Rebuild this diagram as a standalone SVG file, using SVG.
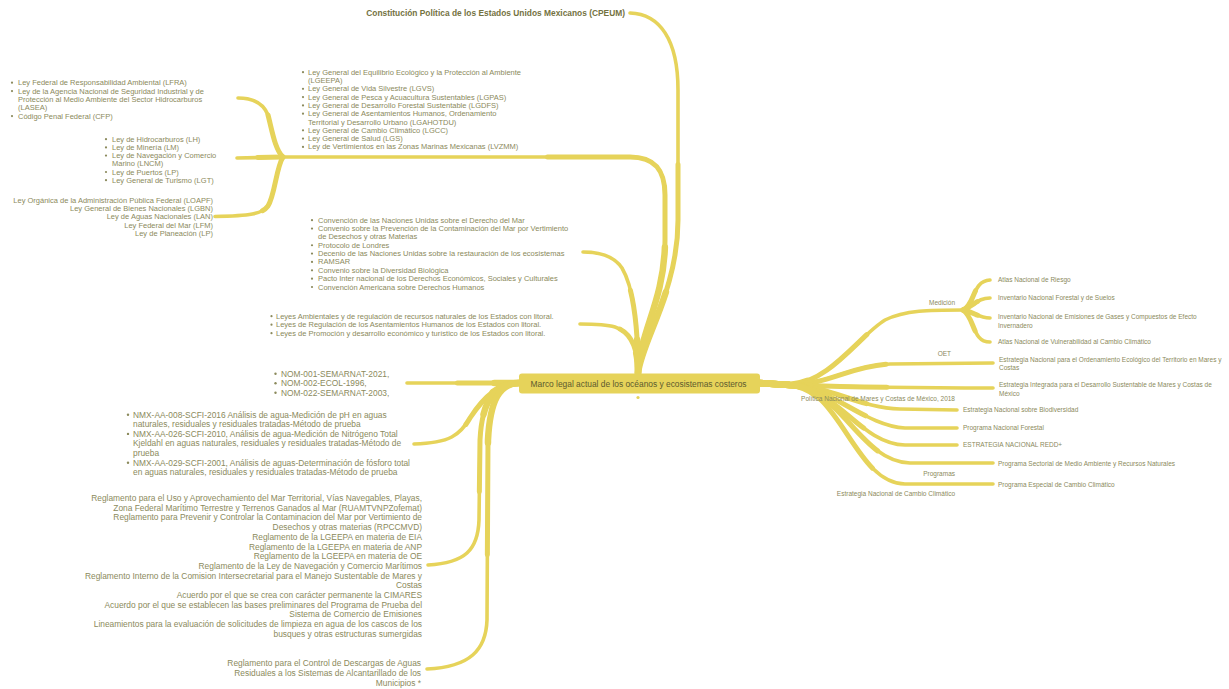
<svg xmlns="http://www.w3.org/2000/svg" xmlns:xlink="http://www.w3.org/1999/xlink" width="1229" height="689" viewBox="0 0 1229 689">
<style>
.t{font-family:"Liberation Sans",Arial,sans-serif;fill:#8b8a5c;font-size:7.5px}
.m{font-size:8.4px}
.s{font-size:6.5px}
.e{text-anchor:end}
.b{fill:#8b8a5c}
.ttl{font-family:"Liberation Sans",Arial,sans-serif;font-weight:bold;font-size:8.4px;fill:#74723f;text-anchor:end}
.ctr{font-family:"Liberation Sans",Arial,sans-serif;font-size:8.4px;fill:#5c5a2e;text-anchor:middle}
.node{fill:#e6d35a}
.ln{fill:none;stroke:#e6d35a;stroke-linecap:round;stroke-linejoin:round}
.w1{stroke-width:3.6}
.w2{stroke-width:5;stroke-dasharray:55 200}
.w3{stroke-width:6.5;stroke-dasharray:22 200}
</style>
<defs>
<path id="p_cpeum" pathLength="100" d="M638,373 C642,340 678,290 678,220 L678,90 C678,40 660,14 630,13"/>
<path id="p_lgeepa" pathLength="100" d="M638,373 C640,330 665,300 665,240 L665,195 C665,170 655,157 630,157 L283,157"/>
<path id="p_conv" pathLength="100" d="M638,373 C638,320 632,285 622,268 C614,256 600,252 583,252"/>
<path id="p_estat" pathLength="100" d="M638,373 C638,345 630,332 615,327 C605,324 592,324 580,324"/>
<path id="p_lfra" pathLength="100" d="M283,157 C275,150 272,130 268,115 C263,102 252,98 238,98"/>
<path id="p_lh" pathLength="100" d="M283,157 L237,158"/>
<path id="p_loapf" pathLength="100" d="M283,157 C276,168 275,195 268,206 C262,214 250,216 215,216.5"/>
<path id="p_nom" pathLength="100" d="M519,383 L407,383"/>
<path id="p_nmx" pathLength="100" d="M519,383 C500,383 485,395 470,418 C460,435 450,443 414,444"/>
<path id="p_regl" pathLength="100" d="M519,383 C495,383 482,400 480,440 L479,520 C478,550 465,563 428,565"/>
<path id="p_ctrl" pathLength="100" d="M519,383 C500,383 490,400 488,440 L487,620 C486,650 470,667 427,669"/>
<path id="p_med" pathLength="100" d="M758,383 L790,385 C830,382 860,335 885,320 C905,310 930,310 963,310"/>
<path id="p_oet" pathLength="100" d="M758,383 L790,385 C830,384 850,366 890,364 L993,363"/>
<path id="p_integ" pathLength="100" d="M758,383 L790,385 C850,387 900,388 993,388"/>
<path id="p_bio" pathLength="100" d="M758,383 L790,385 C830,386 860,408 900,409 L957,410"/>
<path id="p_for" pathLength="100" d="M758,383 L790,385 C830,386 865,426 905,428 L957,428"/>
<path id="p_redd" pathLength="100" d="M758,383 L790,385 C835,386 860,444 905,445 L957,445"/>
<path id="p_sect" pathLength="100" d="M758,383 L790,385 C840,386 860,462 910,463 L993,463"/>
<path id="p_esp" pathLength="100" d="M758,383 L790,385 C840,386 855,484 905,484 L993,484"/>
<path id="p_m1" pathLength="100" d="M963,310 C975,305 972,281 990,280"/>
<path id="p_m2" pathLength="100" d="M963,310 C975,305 978,298 990,298"/>
<path id="p_m3" pathLength="100" d="M963,310 C975,312 978,318 990,318"/>
<path id="p_m4" pathLength="100" d="M963,310 C975,318 972,342 990,342"/>
</defs>
<rect width="1229" height="689" fill="#ffffff"/>
<g id="connectors">
<use xlink:href="#p_cpeum" class="ln w1"/><use xlink:href="#p_cpeum" class="ln w2"/><use xlink:href="#p_cpeum" class="ln w3"/>
<use xlink:href="#p_lgeepa" class="ln w1"/><use xlink:href="#p_lgeepa" class="ln w2"/><use xlink:href="#p_lgeepa" class="ln w3"/>
<use xlink:href="#p_conv" class="ln w1"/><use xlink:href="#p_conv" class="ln w2"/><use xlink:href="#p_conv" class="ln w3"/>
<use xlink:href="#p_estat" class="ln w1"/><use xlink:href="#p_estat" class="ln w2"/><use xlink:href="#p_estat" class="ln w3"/>
<use xlink:href="#p_lfra" class="ln w1"/><use xlink:href="#p_lfra" class="ln w2"/>
<use xlink:href="#p_lh" class="ln w1"/><use xlink:href="#p_lh" class="ln w2"/>
<use xlink:href="#p_loapf" class="ln w1"/><use xlink:href="#p_loapf" class="ln w2"/>
<use xlink:href="#p_nom" class="ln w1"/><use xlink:href="#p_nom" class="ln w2"/><use xlink:href="#p_nom" class="ln w3"/>
<use xlink:href="#p_nmx" class="ln w1"/><use xlink:href="#p_nmx" class="ln w2"/><use xlink:href="#p_nmx" class="ln w3"/>
<use xlink:href="#p_regl" class="ln w1"/><use xlink:href="#p_regl" class="ln w2"/><use xlink:href="#p_regl" class="ln w3"/>
<use xlink:href="#p_ctrl" class="ln w1"/><use xlink:href="#p_ctrl" class="ln w2"/><use xlink:href="#p_ctrl" class="ln w3"/>
<use xlink:href="#p_med" class="ln w1"/><use xlink:href="#p_med" class="ln w2"/><use xlink:href="#p_med" class="ln w3"/>
<use xlink:href="#p_oet" class="ln w1"/><use xlink:href="#p_oet" class="ln w2"/><use xlink:href="#p_oet" class="ln w3"/>
<use xlink:href="#p_integ" class="ln w1"/><use xlink:href="#p_integ" class="ln w2"/><use xlink:href="#p_integ" class="ln w3"/>
<use xlink:href="#p_bio" class="ln w1"/><use xlink:href="#p_bio" class="ln w2"/><use xlink:href="#p_bio" class="ln w3"/>
<use xlink:href="#p_for" class="ln w1"/><use xlink:href="#p_for" class="ln w2"/><use xlink:href="#p_for" class="ln w3"/>
<use xlink:href="#p_redd" class="ln w1"/><use xlink:href="#p_redd" class="ln w2"/><use xlink:href="#p_redd" class="ln w3"/>
<use xlink:href="#p_sect" class="ln w1"/><use xlink:href="#p_sect" class="ln w2"/><use xlink:href="#p_sect" class="ln w3"/>
<use xlink:href="#p_esp" class="ln w1"/><use xlink:href="#p_esp" class="ln w2"/><use xlink:href="#p_esp" class="ln w3"/>
<use xlink:href="#p_m1" class="ln w1"/><use xlink:href="#p_m1" class="ln w2"/>
<use xlink:href="#p_m2" class="ln w1"/><use xlink:href="#p_m2" class="ln w2"/>
<use xlink:href="#p_m3" class="ln w1"/><use xlink:href="#p_m3" class="ln w2"/>
<use xlink:href="#p_m4" class="ln w1"/><use xlink:href="#p_m4" class="ln w2"/>
</g>

<g id="n_center">
<rect class="node" x="519" y="373.5" width="241" height="20" rx="3"/>
<circle class="node" cx="638" cy="397.5" r="1.6"/>
<text class="ctr" x="638.5" y="386.5">Marco legal actual de los océanos y ecosistemas costeros</text>
</g>

<g id="n_cpeum">
<text class="ttl" x="625" y="16.3">Constitución Política de los Estados Unidos Mexicanos (CPEUM)</text>
</g>

<g id="n_lgeepa">
<g class="b"><circle cx="303" cy="72.2" r="1.1"/><circle cx="303" cy="88.8" r="1.1"/><circle cx="303" cy="97.1" r="1.1"/><circle cx="303" cy="105.4" r="1.1"/><circle cx="303" cy="113.7" r="1.1"/><circle cx="303" cy="130.3" r="1.1"/><circle cx="303" cy="138.6" r="1.1"/><circle cx="303" cy="146.9" r="1.1"/></g>
<text class="t" x="308" y="74.7">Ley General del Equilibrio Ecológico y la Protección al Ambiente<tspan x="308" dy="8.3">(LGEEPA)</tspan><tspan x="308" dy="8.3">Ley General de Vida Silvestre (LGVS)</tspan><tspan x="308" dy="8.3">Ley General de Pesca y Acuacultura Sustentables (LGPAS)</tspan><tspan x="308" dy="8.3">Ley General de Desarrollo Forestal Sustentable (LGDFS)</tspan><tspan x="308" dy="8.3">Ley General de Asentamientos Humanos, Ordenamiento</tspan><tspan x="308" dy="8.3">Territorial y Desarrollo Urbano (LGAHOTDU)</tspan><tspan x="308" dy="8.3">Ley General de Cambio Climático (LGCC)</tspan><tspan x="308" dy="8.3">Ley General de Salud (LGS)</tspan><tspan x="308" dy="8.3">Ley de Vertimientos en las Zonas Marinas Mexicanas (LVZMM)</tspan></text>
</g>

<g id="n_lfra">
<g class="b"><circle cx="12" cy="82.7" r="1.1"/><circle cx="12" cy="91.05" r="1.1"/><circle cx="12" cy="116.1" r="1.1"/></g>
<text class="t" x="18" y="85.2">Ley Federal de Responsabilidad Ambiental (LFRA)<tspan x="18" dy="8.35">Ley de la Agencia Nacional de Seguridad Industrial y de</tspan><tspan x="18" dy="8.35">Protección al Medio Ambiente del Sector Hidrocarburos</tspan><tspan x="18" dy="8.35">(LASEA)</tspan><tspan x="18" dy="8.35">Código Penal Federal (CFP)</tspan></text>
</g>

<g id="n_lh">
<g class="b"><circle cx="106" cy="139.2" r="1.1"/><circle cx="106" cy="147.4" r="1.1"/><circle cx="106" cy="155.6" r="1.1"/><circle cx="106" cy="172" r="1.1"/><circle cx="106" cy="180.2" r="1.1"/></g>
<text class="t" x="112" y="141.7">Ley de Hidrocarburos (LH)<tspan x="112" dy="8.2">Ley de Minería (LM)</tspan><tspan x="112" dy="8.2">Ley de Navegación y Comercio</tspan><tspan x="112" dy="8.2">Marino (LNCM)</tspan><tspan x="112" dy="8.2">Ley de Puertos (LP)</tspan><tspan x="112" dy="8.2">Ley General de Turismo (LGT)</tspan></text>
</g>

<g id="n_loapf">
<text class="t e" x="213" y="202.7">Ley Orgánica de la Administración Pública Federal (LOAPF)<tspan x="213" dy="8.3">Ley General de Bienes Nacionales (LGBN)</tspan><tspan x="213" dy="8.3">Ley de Aguas Nacionales (LAN)</tspan><tspan x="213" dy="8.3">Ley Federal del Mar (LFM)</tspan><tspan x="213" dy="8.3">Ley de Planeación (LP)</tspan></text>
</g>

<g id="n_conv">
<g class="b"><circle cx="312" cy="220.2" r="1.1"/><circle cx="312" cy="228.55" r="1.1"/><circle cx="312" cy="245.25" r="1.1"/><circle cx="312" cy="253.6" r="1.1"/><circle cx="312" cy="261.95" r="1.1"/><circle cx="312" cy="270.3" r="1.1"/><circle cx="312" cy="278.65" r="1.1"/><circle cx="312" cy="287" r="1.1"/></g>
<text class="t" x="318" y="222.7">Convención de las Naciones Unidas sobre el Derecho del Mar<tspan x="318" dy="8.35">Convenio sobre la Prevención de la Contaminación del Mar por Vertimiento</tspan><tspan x="318" dy="8.35">de Desechos y otras Materias</tspan><tspan x="318" dy="8.35">Protocolo de Londres</tspan><tspan x="318" dy="8.35">Decenio de las Naciones Unidas sobre la restauración de los ecosistemas</tspan><tspan x="318" dy="8.35">RAMSAR</tspan><tspan x="318" dy="8.35">Convenio sobre la Diversidad Biológica</tspan><tspan x="318" dy="8.35">Pacto Inter nacional de los Derechos Económicos, Sociales y Culturales</tspan><tspan x="318" dy="8.35">Convención Americana sobre Derechos Humanos</tspan></text>
</g>

<g id="n_estatales">
<g class="b"><circle cx="271.5" cy="316.2" r="1.1"/><circle cx="271.5" cy="324.7" r="1.1"/><circle cx="271.5" cy="333.2" r="1.1"/></g>
<text class="t" x="276" y="318.7">Leyes Ambientales y de regulación de recursos naturales de los Estados con litoral.<tspan x="276" dy="8.5">Leyes de Regulación de los Asentamientos Humanos de los Estados con litoral.</tspan><tspan x="276" dy="8.5">Leyes de Promoción y desarrollo económico y turístico de los Estados con litoral.</tspan></text>
</g>

<g id="n_nom">
<g class="b"><circle cx="275.5" cy="373.7" r="1.2"/><circle cx="275.5" cy="383.2" r="1.2"/><circle cx="275.5" cy="392.7" r="1.2"/></g>
<text class="t m" x="281" y="376.5">NOM-001-SEMARNAT-2021,<tspan x="281" dy="9.5">NOM-002-ECOL-1996,</tspan><tspan x="281" dy="9.5">NOM-022-SEMARNAT-2003,</tspan></text>
</g>

<g id="n_nmx">
<g class="b"><circle cx="128" cy="414.7" r="1.2"/><circle cx="128" cy="433.9" r="1.2"/><circle cx="128" cy="462.7" r="1.2"/></g>
<text class="t m" x="133" y="417.5">NMX-AA-008-SCFI-2016 Análisis de agua-Medición de pH en aguas<tspan x="133" dy="9.6">naturales, residuales y residuales tratadas-Método de prueba</tspan><tspan x="133" dy="9.6">NMX-AA-026-SCFI-2010, Análisis de agua-Medición de Nitrógeno Total</tspan><tspan x="133" dy="9.6">Kjeldahl en aguas naturales, residuales y residuales tratadas-Método de</tspan><tspan x="133" dy="9.6">prueba</tspan><tspan x="133" dy="9.6">NMX-AA-029-SCFI-2001, Análisis de aguas-Determinación de fósforo total</tspan><tspan x="133" dy="9.6">en aguas naturales, residuales y residuales tratadas-Método de prueba</tspan></text>
</g>

<g id="n_reglamentos">
<text class="t m e" x="422" y="501">Reglamento para el Uso y Aprovechamiento del Mar Territorial, Vías Navegables, Playas,<tspan x="422" dy="9.7">Zona Federal Marítimo Terrestre y Terrenos Ganados al Mar (RUAMTVNPZofemat)</tspan><tspan x="422" dy="9.7">Reglamento para Prevenir y Controlar la Contaminacion del Mar por Vertimiento de</tspan><tspan x="422" dy="9.7">Desechos y otras materias (RPCCMVD)</tspan><tspan x="422" dy="9.7">Reglamento de la LGEEPA en materia de EIA</tspan><tspan x="422" dy="9.7">Reglamento de la LGEEPA en materia de ANP</tspan><tspan x="422" dy="9.7">Reglamento de la LGEEPA en materia de OE</tspan><tspan x="422" dy="9.7">Reglamento de la Ley de Navegación y Comercio Marítimos</tspan><tspan x="422" dy="9.7">Reglamento Interno de la Comision Intersecretarial para el Manejo Sustentable de Mares y</tspan><tspan x="422" dy="9.7">Costas</tspan><tspan x="422" dy="9.7">Acuerdo por el que se crea con carácter permanente la CIMARES</tspan><tspan x="422" dy="9.7">Acuerdo por el que se establecen las bases preliminares del Programa de Prueba del</tspan><tspan x="422" dy="9.7">Sistema de Comercio de Emisiones</tspan><tspan x="422" dy="9.7">Lineamientos para la evaluación de solicitudes de limpieza en agua de los cascos de los</tspan><tspan x="422" dy="9.7">busques y otras estructuras sumergidas</tspan></text>
</g>

<g id="n_control">
<text class="t m e" x="421" y="666">Reglamento para el Control de Descargas de Aguas<tspan x="421" dy="10">Residuales a los Sistemas de Alcantarillado de los</tspan><tspan x="421" dy="10">Municipios *</tspan></text>
</g>

<g id="n_medicion"><text class="t s e" x="955" y="305.3">Medición</text></g>
<g id="n_atlas_riesgo"><text class="t s" x="998" y="282.3">Atlas Nacional de Riesgo</text></g>
<g id="n_inv_forestal"><text class="t s" x="998" y="300.3">Inventario Nacional Forestal y de Suelos</text></g>
<g id="n_inv_emisiones"><text class="t s" x="998" y="319.2">Inventario Nacional de Emisiones de Gases y Compuestos de Efecto<tspan x="998" dy="8.3">Invernadero</tspan></text></g>
<g id="n_atlas_vuln"><text class="t s" x="998" y="344.3">Atlas Nacional de Vulnerabilidad al Cambio Climático</text></g>
<g id="n_oet"><text class="t s e" x="951" y="356.3">OET</text></g>
<g id="n_enoet"><text class="t s" x="999" y="361.5">Estrategia Nacional para el Ordenamiento Ecológico del Territorio en Mares y<tspan x="999" dy="8.3">Costas</tspan></text></g>
<g id="n_integrada"><text class="t s" x="999" y="387.3">Estrategia Integrada para el Desarrollo Sustentable de Mares y Costas de<tspan x="999" dy="8.3">México</tspan></text></g>
<g id="n_politica"><text class="t s e" x="955" y="400.6">Política Nacional de Mares y Costas de México, 2018</text></g>
<g id="n_biodiv"><text class="t s" x="963" y="412.3">Estrategia Nacional sobre Biodiversidad</text></g>
<g id="n_pnf"><text class="t s" x="963" y="430">Programa Nacional Forestal</text></g>
<g id="n_redd"><text class="t s" x="963" y="447.3">ESTRATEGIA NACIONAL REDD+</text></g>
<g id="n_sectorial"><text class="t s" x="998" y="465.6">Programa Sectorial de Medio Ambiente y Recursos Naturales</text></g>
<g id="n_programas"><text class="t s e" x="955" y="475.6">Programas</text></g>
<g id="n_especial"><text class="t s" x="998" y="486.6">Programa Especial de Cambio Climático</text></g>
<g id="n_encc"><text class="t s e" x="955" y="495.6">Estrategia Nacional de Cambio Climático</text></g>
</svg>
